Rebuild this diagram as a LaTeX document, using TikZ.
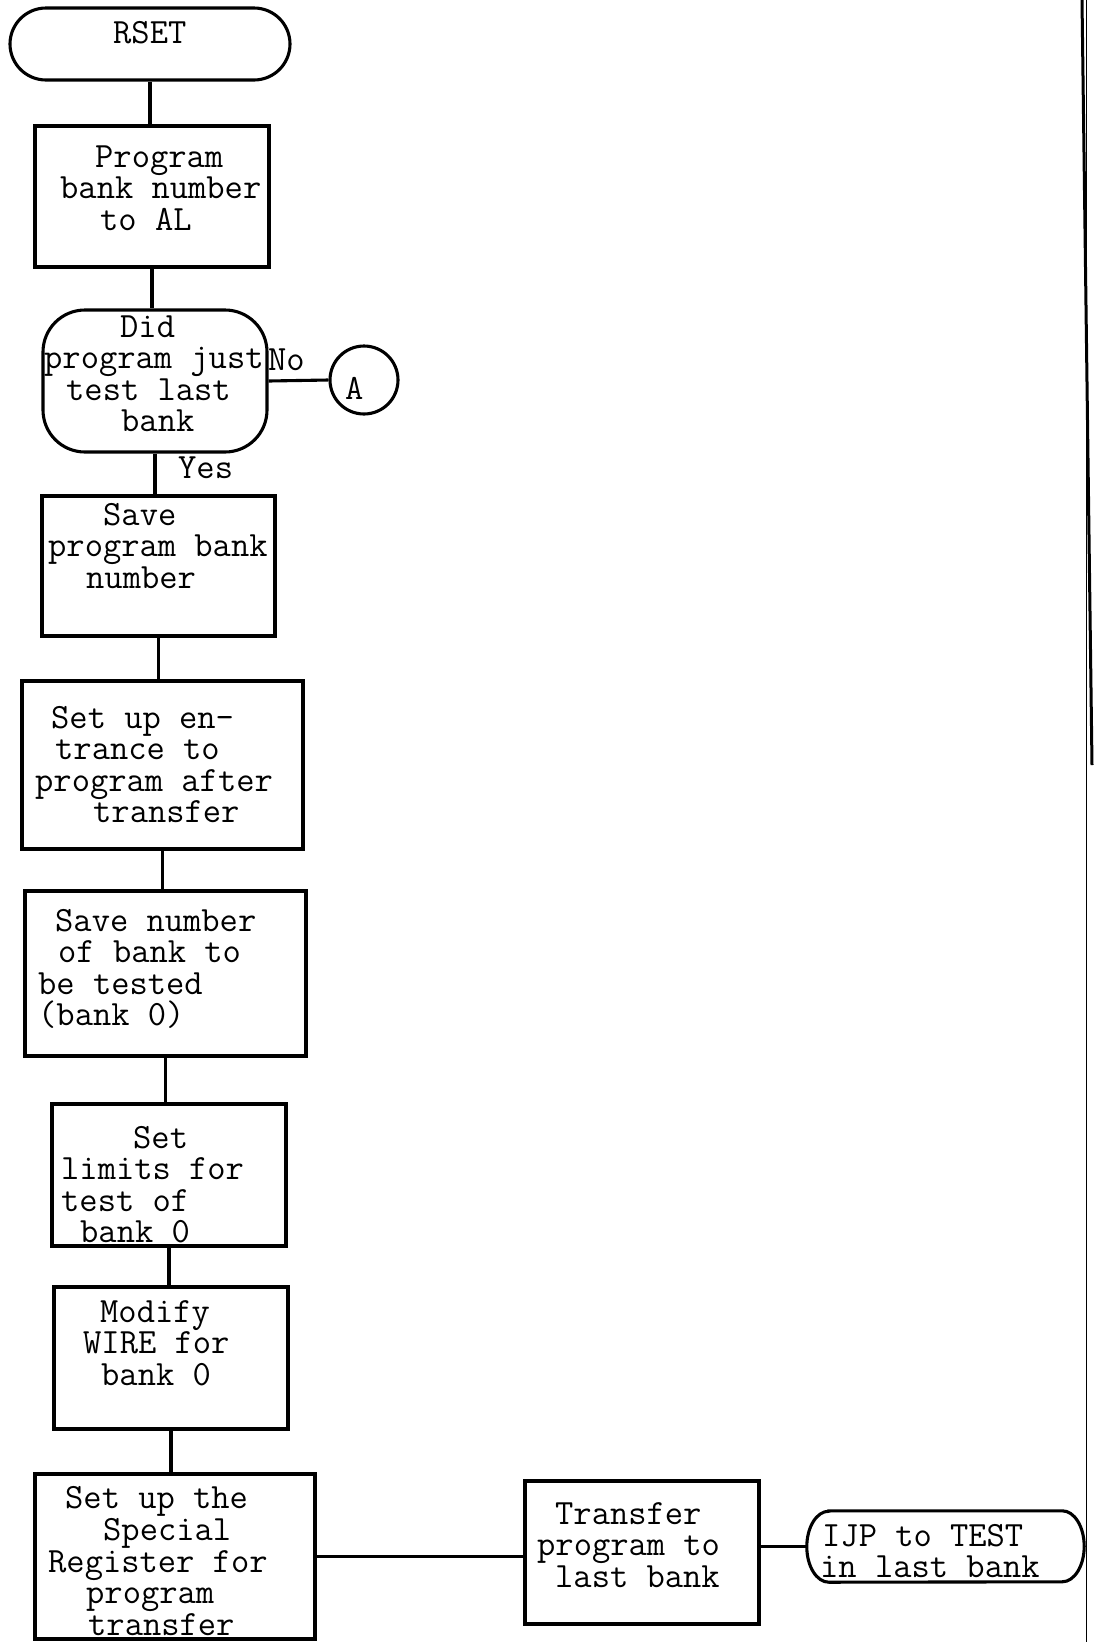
\documentclass[tikz,border=0pt]{standalone}
\usepackage{fontspec}
\newcommand\twfont{\ttfamily\fontsize{35.5}{31.5}\selectfont}
\tikzset{
  line/.style={line width=3.1pt},
  box/.style={draw, line width=3.1pt, rectangle, inner sep=0pt},
  txt/.style={anchor=north west, inner sep=0pt, align=left, font=\twfont},
}
\begin{document}
\begin{tikzpicture}[x=1pt,y=-1pt]
\useasboundingbox (0,0) rectangle (1094,1642);
\fill[white] (0,0) rectangle (1094,1642);

% shapes
\node[box, rounded corners=36pt, minimum width=280pt, minimum height=72pt] (rset) at (150,44) {};
\node[box, minimum width=234pt, minimum height=141pt] (b1) at (152,196.5) {};
\node[box, rounded corners=42pt, minimum width=224pt, minimum height=142pt] (dec) at (155,381) {};
\node[box, circle, minimum size=68pt] (A) at (364,380) {};
\node[box, minimum width=233pt, minimum height=140pt] (b2) at (158.5,566) {};
\node[box, minimum width=281pt, minimum height=168pt] (b3) at (162.5,765) {};
\node[box, minimum width=281pt, minimum height=165pt] (b4) at (165.5,973.5) {};
\node[box, minimum width=234pt, minimum height=142pt] (b5) at (169,1175) {};
\node[box, minimum width=234pt, minimum height=142pt] (b6) at (171,1358) {};
\node[box, minimum width=280pt, minimum height=165pt] (b7) at (175,1556.5) {};
\node[box, minimum width=234pt, minimum height=143pt] (b8) at (642,1552.5) {};
\node[inner sep=0pt, minimum width=277pt, minimum height=71pt] (ijp) at (945.5,1546.5) {};
\draw[line] ([xshift=22pt]ijp.north west) -- ([xshift=-22pt]ijp.north east)
  arc[start angle=90,end angle=-90,x radius=22pt,y radius=35.5pt]
  -- ([xshift=22pt]ijp.south west)
  arc[start angle=270,end angle=90,x radius=22pt,y radius=35.5pt] -- cycle;

% texts
\node[txt] (t0) at (113,21) {\strut RSET};
\node[txt] (t1) at (60,145) {\strut\hspace*{35pt}Program\\bank number\\\hspace*{40pt}to AL};
\node[txt] (td) at (44,315) {\strut\hspace*{76pt}Did\\program just\\\hspace*{22pt}test last\\\hspace*{77pt}bank};
\node[txt] (tno) at (268,348) {\strut No};
\node[txt] (tyes) at (178,456) {\strut Yes};
\node[txt] (tA) at (345,377) {\strut A};
\node[txt] (t2) at (48,503) {\strut\hspace*{55pt}Save\\program bank\\\hspace*{38pt}number};
\node[txt] (t3) at (35,706) {\strut\hspace*{16pt}Set up en-\\\hspace*{20pt}trance to\\program after\\\hspace*{58pt}transfer};
\node[txt] (t4) at (38,909) {\strut\hspace*{17pt}Save number\\\hspace*{20pt}of bank to\\be tested\\(bank 0)};
\node[txt] (t5) at (61,1126) {\strut\hspace*{72pt}Set\\limits for\\test of\\\hspace*{19pt}bank 0};
\node[txt] (t6) at (83,1300) {\strut\hspace*{17pt}Modify\\WIRE for\\\hspace*{18pt}bank 0};
\node[txt] (t7) at (48,1486) {\strut\hspace*{17pt}Set up the\\\hspace*{55pt}Special\\Register for\\\hspace*{38pt}program\\\hspace*{40pt}transfer};
\node[txt] (t8) at (537,1502) {\strut\hspace*{18pt}Transfer\\program to\\\hspace*{18pt}last bank};
\node[txt] (t9) at (820,1524) {\strut\hspace*{2pt}IJP to TEST\\in last bank};

% connectors
\draw[line] (rset.south) -- (rset.south |- b1.north);
\draw[line] (b1.south) -- (b1.south |- dec.north);
\draw[line] (dec.east) -- (A.west);
\draw[line] (dec.south) -- (dec.south |- b2.north);
\draw[line] (b2.south) -- (b2.south |- b3.north);
\draw[line] (b3.south) -- (b3.south |- b4.north);
\draw[line] (b4.south) -- (b4.south |- b5.north);
\draw[line] (b5.south) -- (b5.south |- b6.north);
\draw[line] (b6.south) -- (b6.south |- b7.north);
\draw[line] (b7.east) -- (b7.east -| b8.west);
\draw[line] (ijp.west -| b8.east) -- (ijp.west);

% page edge lines
\coordinate (e1) at (1086.5,0);
\coordinate (e2) at (1086.5,1642);
\draw[line width=1.5pt] (e1) -- (e2);
\coordinate (s1) at (1082,0);
\coordinate (s2) at (1092,765);
\draw[line width=3pt] (s1) -- (s2);
\end{tikzpicture}
\end{document}
